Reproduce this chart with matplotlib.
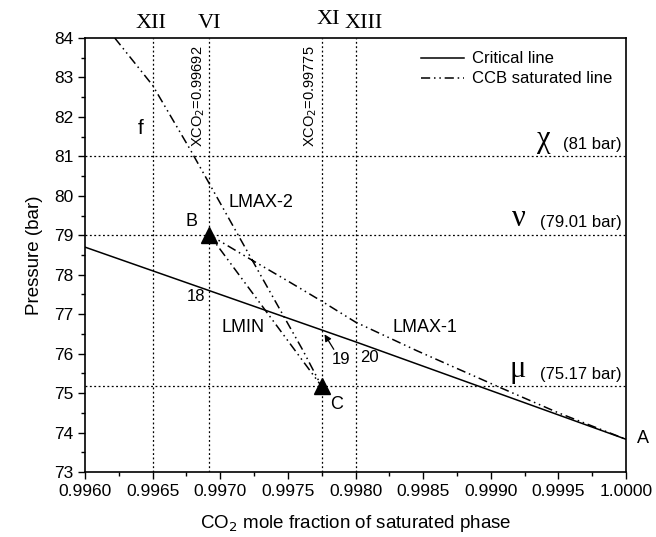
import matplotlib.pyplot as plt
from matplotlib.ticker import MultipleLocator

plt.rcParams['font.family'] = ['Liberation Sans', 'DejaVu Sans']

# critical line
crit_x = [0.9960, 0.9980, 1.0000]
crit_y = [78.70, 76.30, 73.83]

# CCB saturated line: f -> C -> B -> A
ccb_x = [0.99622, 0.99650, 0.99678, 0.99729, 0.99761, 0.99775,
         0.99692,
         0.99720, 0.99750, 0.99775, 0.99800, 0.99845, 0.99905, 0.99950, 1.0000]
ccb_y = [84.00, 82.80, 81.16, 78.04, 76.09, 75.17,
         79.01,
         78.44, 77.84, 77.33, 76.80, 76.08, 75.17, 74.50, 73.83]

# points B and C
pts_x = [0.99692, 0.99775]
pts_y = [79.01, 75.17]

# reference lines
vlines_x = [0.9965, 0.99692, 0.99775, 0.9980]
vlines_lab = ['XII', 'VI', 'XI', 'XIII']
hlines_y = [81.0, 79.01, 75.17]
hlines_sym = ['χ', 'ν', 'μ']
hlines_lab = ['(81 bar)', '(79.01 bar)', '(75.17 bar)']

fig = plt.figure(figsize=(6.56, 5.37), dpi=100)
ax = fig.add_axes([0.1296, 0.121, 0.8247, 0.8082])

for x in vlines_x:
    ax.axvline(x, color='black', ls=(0, (1.5, 2)), lw=0.9)
for y in hlines_y:
    ax.axhline(y, color='black', ls=(0, (1.5, 2)), lw=0.9)

ax.plot(crit_x, crit_y, color='black', lw=1.1, label='Critical line')
ax.plot(ccb_x, ccb_y, color='black', lw=1.1, dashes=(6, 2.5, 1, 2.5, 1, 2.5),
        label='CCB saturated line')
ax.plot(pts_x, pts_y, ls='none', marker='^', ms=11, color='black')

ax.set_xlim(0.9960, 1.0000)
ax.set_ylim(73, 84)
ax.xaxis.set_major_locator(MultipleLocator(0.0005))
ax.xaxis.set_minor_locator(MultipleLocator(0.00025))
ax.yaxis.set_major_locator(MultipleLocator(1))
ax.yaxis.set_minor_locator(MultipleLocator(0.5))
ax.xaxis.set_major_formatter(plt.FormatStrFormatter('%.4f'))
ax.tick_params(which='both', direction='out', top=False, right=False, labelsize=12.5)
ax.tick_params(which='major', length=5, width=1)
ax.tick_params(which='minor', length=3, width=1)
for s in ax.spines.values():
    s.set_linewidth(1.2)

ax.set_xlabel('CO$_2$ mole fraction of saturated phase', fontsize=13.5, labelpad=10)
ax.set_ylabel('Pressure (bar)', fontsize=13.5, labelpad=8)

# roman numerals on top
top_x = [0.99649, 0.99692, 0.99780, 0.99806]
for x, lab in zip(top_x, vlines_lab):
    dy = 84.22 if lab == 'XI' else 84.12
    ax.text(x, dy, lab, family='Liberation Serif', fontsize=16, ha='center', va='bottom')

ax.text(0.99690, 81.25, 'XCO$_2$=0.99692', rotation=90, ha='right', va='bottom', fontsize=10.5)
ax.text(0.99773, 81.25, 'XCO$_2$=0.99775', rotation=90, ha='right', va='bottom', fontsize=10.5)

sym_x = [0.99944, 0.99926, 0.99926]
for y, sym, lab, xs in zip(hlines_y, hlines_sym, hlines_lab, sym_x):
    ax.text(0.99997, y + 0.12, lab, ha='right', va='bottom', fontsize=12)
    ax.text(xs, y + 0.05, sym, ha='right', va='bottom', family='Liberation Serif', fontsize=22)

ax.text(0.99641, 81.7, 'f', fontsize=15, ha='center', va='center')
ax.text(0.99683, 79.35, 'B', fontsize=13, ha='right', va='center')
ax.text(0.99781, 74.7, 'C', fontsize=13, ha='left', va='center')
ax.text(1.00008, 73.85, 'A', fontsize=13, ha='left', va='center')
ax.text(0.99682, 77.45, '18', fontsize=12, ha='center', va='center')
ax.text(0.99789, 75.85, '19', fontsize=12, ha='center', va='center')
ax.text(0.99810, 75.9, '20', fontsize=12, ha='center', va='center')
ax.text(0.99706, 79.82, 'LMAX-2', fontsize=13, ha='left', va='center')
ax.text(0.99701, 76.67, 'LMIN', fontsize=13, ha='left', va='center')
ax.text(0.99827, 76.67, 'LMAX-1', fontsize=13, ha='left', va='center')

ax.annotate('', xy=(0.99776, 76.55), xytext=(0.99785, 76.05),
            arrowprops=dict(arrowstyle='-|>', color='black', lw=0.9, mutation_scale=10))

ax.legend(loc='upper right', frameon=False, fontsize=12, handlelength=2.6,
          borderaxespad=0.4, labelspacing=0.3, handletextpad=0.5)

fig.savefig('out.png', dpi=100)
